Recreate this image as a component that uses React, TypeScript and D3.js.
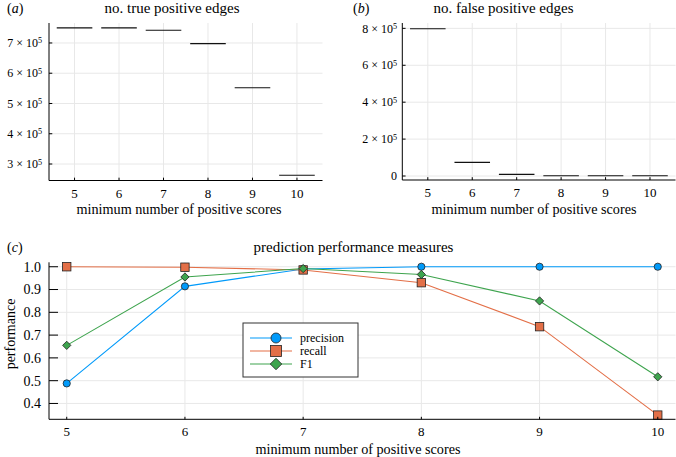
import * as d3 from "d3";

const thresholds = [5, 6, 7, 8, 9, 10];
const truePositives = [750000, 750000, 742000, 698000, 552000, 263000];
const falsePositives = [798000, 74000, 9000, 1600, 1600, 1600];
const precision = [0.488, 0.914, 0.99, 1.0, 1.0, 1.0];
const recall = [1.0, 0.998, 0.986, 0.93, 0.737, 0.349];
const f1 = [0.655, 0.955, 0.992, 0.966, 0.85, 0.517];
const ticksA = [3, 4, 5, 6, 7];
const ticksB = [0, 2, 4, 6, 8];
const ticksC = [0.4, 0.5, 0.6, 0.7, 0.8, 0.9, 1.0];

const FONT = "Liberation Serif, Times New Roman, DejaVu Serif, serif";
const GRID = "#e8e8e8";
const XLABEL = "minimum number of positive scores";

const colors = { precision: "#009afa", recall: "#e36f47", f1: "#3ea44e" };

function Sci({ x, y, mant, size }: { x: number; y: number; mant: number; size: number }) {
  if (mant === 0) {
    return (
      <text x={x} y={y} textAnchor="end" fontSize={size} dy="0.35em">0</text>
    );
  }
  return (
    <text x={x} y={y} textAnchor="end" fontSize={size} dy="0.35em">
      {mant} × 10<tspan fontSize={size * 0.68} dy="-0.45em">5</tspan>
    </text>
  );
}

function BoxPanel({ left, right, top, bottom, values, yDomain, ticks, title, titleX, label, tag, tagX, xlabelX, labelEnd }: any) {
  const x = d3.scaleLinear().domain([0.426, 6.574]).range([left, right]);
  const y = d3.scaleLinear().domain(yDomain).range([bottom, top]);
  const hw = (x(1.4) - x(1)) ;
  const yTickLen = (right - left) * 0.012;
  const xTickLen = (bottom - top) * 0.018;
  return (
    <g>
      {thresholds.map((t, i) => (
        <line key={"gx" + t} x1={x(i + 1)} x2={x(i + 1)} y1={top} y2={bottom} stroke={GRID} />
      ))}
      {ticks.map((t: number) => (
        <line key={"gy" + t} x1={left} x2={right} y1={y(t * 1e5)} y2={y(t * 1e5)} stroke={GRID} />
      ))}
      {values.map((v: number, i: number) => (
        <line key={"m" + i} x1={x(i + 1) - hw} x2={x(i + 1) + hw} y1={y(v)} y2={y(v)} stroke="#111" strokeWidth={1.1} />
      ))}
      <line x1={left} x2={left} y1={top} y2={bottom} stroke="#000" />
      <line x1={left} x2={right} y1={bottom} y2={bottom} stroke="#000" />
      {ticks.map((t: number) => (
        <g key={"ty" + t}>
          <line x1={left} x2={left + yTickLen} y1={y(t * 1e5)} y2={y(t * 1e5)} stroke="#000" />
          <Sci x={labelEnd} y={y(t * 1e5)} mant={t} size={12} />
        </g>
      ))}
      {thresholds.map((t, i) => (
        <g key={"tx" + t}>
          <line x1={x(i + 1)} x2={x(i + 1)} y1={bottom} y2={bottom - xTickLen} stroke="#000" />
          <text x={x(i + 1)} y={bottom + 17} textAnchor="middle" fontSize={13}>{t}</text>
        </g>
      ))}
      <text x={titleX} y={13} textAnchor="middle" fontSize={15}>{title}</text>
      <text x={tagX} y={13} fontSize={14}>(<tspan fontStyle="italic">{tag}</tspan>)</text>
      <text x={xlabelX} y={214} textAnchor="middle" fontSize={14.2}>{label}</text>
    </g>
  );
}

function Marker({ kind, cx, cy, s, color }: { kind: string; cx: number; cy: number; s: number; color: string }) {
  if (kind === "circle") return <circle cx={cx} cy={cy} r={s} fill={color} stroke="#222" strokeWidth={0.8} />;
  if (kind === "square")
    return <rect x={cx - s} y={cy - s} width={2 * s} height={2 * s} fill={color} stroke="#222" strokeWidth={0.8} />;
  const p = d3.path();
  p.moveTo(cx, cy - s * 1.15);
  p.lineTo(cx + s * 1.15, cy);
  p.lineTo(cx, cy + s * 1.15);
  p.lineTo(cx - s * 1.15, cy);
  p.closePath();
  return <path d={p.toString()} fill={color} stroke="#222" strokeWidth={0.8} />;
}

function PerfPanel() {
  const left = 49, right = 675.5, top = 262.3, bottom = 419.3;
  const x = d3.scaleLinear().domain([4.85, 10.15]).range([left, right]);
  const y = d3.scaleLinear().domain([0.3305, 1.0195]).range([bottom, top]);
  const series = [
    { name: "precision", values: precision, color: colors.precision, kind: "circle", s: 3.6 },
    { name: "recall", values: recall, color: colors.recall, kind: "square", s: 4.2 },
    { name: "F1", values: f1, color: colors.f1, kind: "diamond", s: 3.6 },
  ];
  const line = d3.line<number>().x((_, i) => x(thresholds[i])).y((d) => y(d));
  const legendRows = [338, 351, 364];
  return (
    <g>
      {thresholds.map((t) => (
        <line key={"gx" + t} x1={x(t)} x2={x(t)} y1={top} y2={bottom} stroke={GRID} />
      ))}
      {ticksC.map((t) => (
        <line key={"gy" + t} x1={left} x2={right} y1={y(t)} y2={y(t)} stroke={GRID} />
      ))}
      {series.map((s) => (
        <g key={s.name}>
          <path d={line(s.values) || ""} fill="none" stroke={s.color} strokeWidth={1.1} />
          {s.values.map((v, i) => (
            <Marker key={i} kind={s.kind} cx={x(thresholds[i])} cy={y(v)} s={s.s} color={s.color} />
          ))}
        </g>
      ))}
      <line x1={left} x2={left} y1={top} y2={bottom} stroke="#000" />
      <line x1={left} x2={right} y1={bottom} y2={bottom} stroke="#000" />
      {ticksC.map((t) => (
        <g key={"ty" + t}>
          <line x1={left} x2={left + 9} y1={y(t)} y2={y(t)} stroke="#000" />
          <text x={41} y={y(t)} dy="0.35em" textAnchor="end" fontSize={14}>{t.toFixed(1)}</text>
        </g>
      ))}
      {thresholds.map((t) => (
        <g key={"tx" + t}>
          <line x1={x(t)} x2={x(t)} y1={bottom} y2={bottom - 2.5} stroke="#000" />
          <text x={x(t)} y={bottom + 17} textAnchor="middle" fontSize={13}>{t}</text>
        </g>
      ))}
      <text x={353.5} y={252} textAnchor="middle" fontSize={15}>prediction performance measures</text>
      <text x={7} y={252} fontSize={14}>(<tspan fontStyle="italic">c</tspan>)</text>
      <text x={358} y={454} textAnchor="middle" fontSize={14.2}>{XLABEL}</text>
      <text transform={`translate(15,334) rotate(-90)`} textAnchor="middle" fontSize={14}>performance</text>
      <rect x={243} y={323} width={115} height={54} fill="#fff" stroke="#333" strokeWidth={1} />
      {series.map((s, i) => (
        <g key={"lg" + s.name}>
          <line x1={250} x2={292} y1={legendRows[i]} y2={legendRows[i]} stroke={s.color} strokeWidth={1.1} />
          <Marker kind={s.kind} cx={276} cy={legendRows[i]} s={s.kind === "square" ? 5.5 : 5} color={s.color} />
          <text x={300} y={legendRows[i]} dy="0.35em" fontSize={12}>{s.name}</text>
        </g>
      ))}
    </g>
  );
}

export default function App() {
  return (
    <svg width={676} height={457} style={{ display: "block", position: "absolute", left: 0, top: 0, fontFamily: FONT }}>
      <rect width={676} height={457} fill="#fff" />
      <BoxPanel left={49} right={322.5} top={23} bottom={180.5} values={truePositives}
        yDomain={[245500, 766000]} ticks={ticksA} title="no. true positive edges" titleX={172}
        label={XLABEL} tag="a" tagX={7} xlabelX={179} labelEnd={42} />
      <BoxPanel left={402.3} right={675.5} top={23} bottom={180} values={falsePositives}
        yDomain={[-21600, 829000]} ticks={ticksB} title="no. false positive edges" titleX={503.5}
        label={XLABEL} tag="b" tagX={353} xlabelX={534} labelEnd={397} />
      <PerfPanel />
    </svg>
  );
}
